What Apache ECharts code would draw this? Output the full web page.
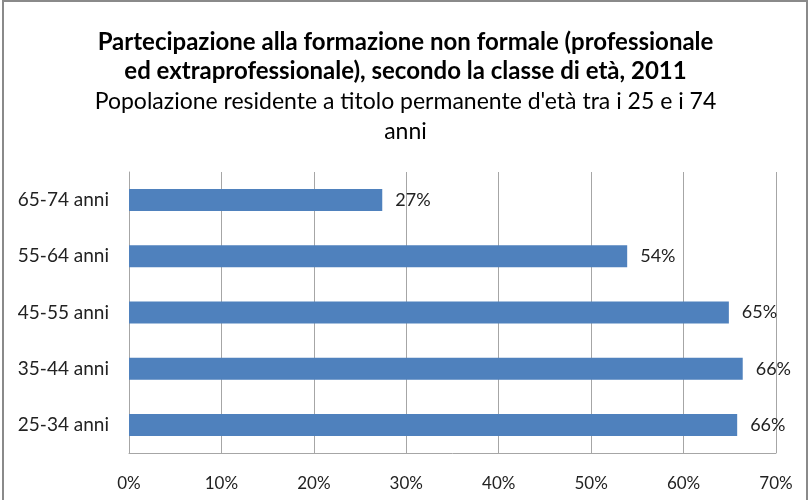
<!DOCTYPE html>
<html>
<head>
<meta charset="utf-8">
<script src="https://cdn.jsdelivr.net/npm/echarts@6/dist/echarts.min.js"></script>
<style>
  html, body { margin: 0; padding: 0; background: #fff; }
  #chart { width: 811px; height: 500px; }
</style>
</head>
<body>
<div id="chart"></div>
<script>
// classi di età (dal basso verso l'alto)
var categories = ['25-34 anni', '35-44 anni', '45-55 anni', '55-64 anni', '65-74 anni']
// partecipazione in %
var values = [65.8, 66.4, 64.9, 53.9, 27.4]
var xTicks = [0, 10, 20, 30, 40, 50, 60, 70]

var font = 'Lato, sans-serif'

var myChart = echarts.init(document.getElementById('chart'))
myChart.setOption({
  animation: false,
  textStyle: { fontFamily: font },
  graphic: [{
    type: 'rect',
    shape: { x: 3, y: 1, width: 804, height: 520 },
    style: { fill: 'none', stroke: '#8a8a8a', lineWidth: 2 },
    silent: true
  }],
  title: {
    left: 'center',
    top: 23,
    text: 'Partecipazione alla formazione non formale (professionale\ned extraprofessionale), secondo la classe di età, 2011',
    subtext: 'Popolazione residente a titolo permanente d\'età tra i 25 e i 74\nanni',
    itemGap: 1,
    textStyle: { fontFamily: font, fontSize: 24, fontWeight: 'bold', color: '#000', lineHeight: 29 },
    subtextStyle: { fontFamily: font, fontSize: 23, color: '#000', lineHeight: 30 }
  },
  grid: { left: 129, right: 35, top: 172, bottom: 47 },
  xAxis: {
    type: 'value',
    min: 0,
    max: 70,
    interval: 10,
    axisLine: { show: true, lineStyle: { color: '#a6a6a6' } },
    axisTick: { show: false },
    splitLine: { lineStyle: { color: '#a6a6a6' } },
    axisLabel: {
      margin: 22,
      fontSize: 17,
      color: '#222',
      formatter: function (v) { return xTicks.indexOf(v) >= 0 ? v + '%' : '' }
    }
  },
  yAxis: {
    type: 'category',
    data: categories,
    axisLine: { show: true, lineStyle: { color: '#a6a6a6' } },
    axisTick: { show: false },
    axisLabel: { margin: 20, fontSize: 19, color: '#222' }
  },
  series: [{
    type: 'bar',
    data: values,
    barWidth: 22,
    itemStyle: { color: '#4f81bd' },
    label: {
      show: true,
      position: 'right',
      distance: 13,
      fontSize: 18,
      color: '#222',
      formatter: function (p) { return Math.round(p.value) + '%' }
    }
  }]
})
</script>
</body>
</html>
